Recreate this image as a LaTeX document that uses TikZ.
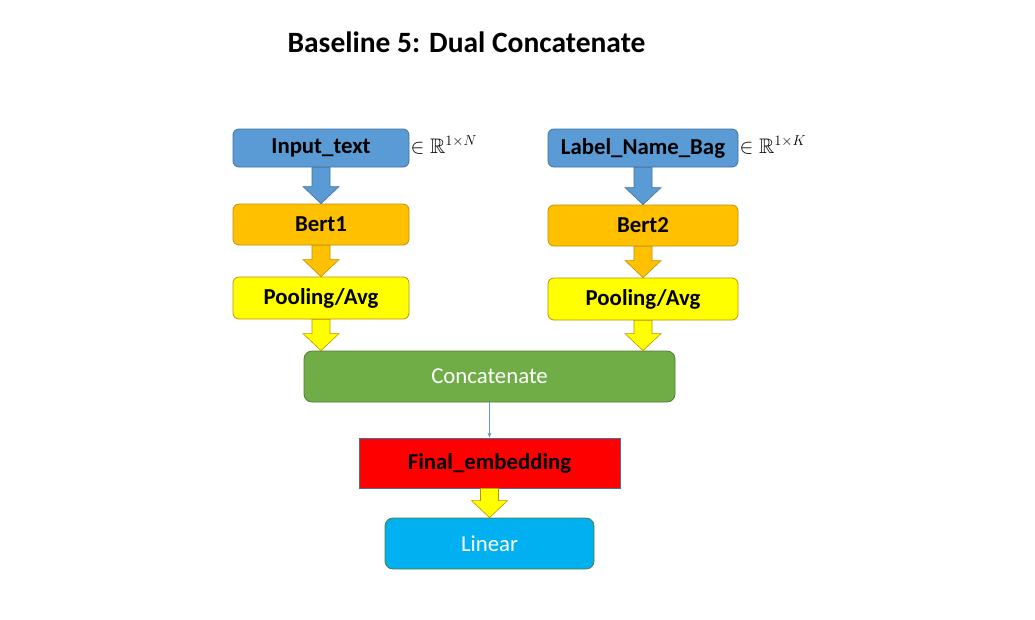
\documentclass[tikz,border=0pt]{standalone}
\usepackage{amssymb}
\usepackage{fontspec}
\setmainfont{Carlito}
\usetikzlibrary{calc,arrows.meta}
\definecolor{inblue}{HTML}{5B9BD5}
\definecolor{inblueD}{HTML}{41719C}
\definecolor{berto}{HTML}{FFC000}
\definecolor{bertoD}{HTML}{C09000}
\definecolor{pooly}{HTML}{FFFF00}
\definecolor{poolyD}{HTML}{BF9000}
\definecolor{catg}{HTML}{70AD47}
\definecolor{catgD}{HTML}{507E32}
\definecolor{finr}{HTML}{FF0000}
\definecolor{linc}{HTML}{00B0F0}
\newcommand\blkarrow[3]{\draw[#3] ($(#1.south)+(-9,0)$) -- ($(#1.south |- #2.north)+(-9,-17)$) -- ++(-9,0) -- (#1.south |- #2.north) -- ($(#1.south |- #2.north)+(18,-17)$) -- ++(-9,0) -- ($(#1.south)+(9,0)$) -- cycle;}
\begin{document}
\begin{tikzpicture}[x=1pt,y=-1pt,
  box/.style={rounded corners=6pt, line width=0.8pt, inner sep=0pt, font=\fontsize{22.8}{26}\selectfont\bfseries},
  wbox/.style={rounded corners=8pt, line width=0.8pt, inner sep=0pt, text=white, font=\fontsize{22.8}{26}\selectfont},
  math/.style={anchor=west, inner sep=1pt, font=\fontsize{21}{25}\selectfont}]
\useasboundingbox[fill=white] (0,0) rectangle (1035,619);
\node (title) at (466.5,42) {\fontsize{29.5}{34}\selectfont\bfseries Baseline 5: Dual Concatenate};
\node[box, fill=inblue, draw=inblueD, minimum width=176, minimum height=38] (in) at (321,148) {Input\_text};
\node[box, fill=inblue, draw=inblueD, minimum width=190, minimum height=38] (lab) at (643,148) {Label\_Name\_Bag};
\node[math] (rn) at ($(in.east)+(0,-3)$) {$\in\mathbb{R}^{1\times N}$};
\node[math] (rk) at ($(lab.east)+(0,-3)$) {$\in\mathbb{R}^{1\times K}$};
\node[box, fill=berto, draw=bertoD, minimum width=176, minimum height=41] (b1) at (321,224.5) {Bert1};
\node[box, fill=berto, draw=bertoD, minimum width=190, minimum height=41] (b2) at (643,225.5) {Bert2};
\node[box, fill=pooly, draw=poolyD, minimum width=176, minimum height=42] (p1) at (321,298) {Pooling/Avg};
\node[box, fill=pooly, draw=poolyD, minimum width=190, minimum height=42] (p2) at (643,299) {Pooling/Avg};
\node[wbox, fill=catg, draw=catgD, minimum width=371, minimum height=51] (cat) at (489.5,376.5) {Concatenate};
\node[box, rounded corners=0pt, fill=finr, draw=inblueD, minimum width=261, minimum height=50] (fin) at (489.5,463) {Final\_embedding};
\node[wbox, fill=linc, draw=catgD, minimum width=209, minimum height=51] (lin) at (489.5,543.5) {Linear};
\blkarrow{in}{b1}{fill=inblue, draw=inblueD, line width=0.6pt}
\blkarrow{lab}{b2}{fill=inblue, draw=inblueD, line width=0.6pt}
\blkarrow{b1}{p1}{fill=berto, draw=bertoD, line width=0.6pt}
\blkarrow{b2}{p2}{fill=berto, draw=bertoD, line width=0.6pt}
\blkarrow{p1}{cat}{fill=pooly, draw=poolyD, line width=0.6pt}
\blkarrow{p2}{cat}{fill=pooly, draw=poolyD, line width=0.6pt}
\blkarrow{fin}{lin}{fill=pooly, draw=poolyD, line width=0.6pt}
\draw[inblue, line width=0.8pt, -{Stealth[length=5pt,width=4pt]}] (cat.south) -- (fin.north);
\end{tikzpicture}
\end{document}
